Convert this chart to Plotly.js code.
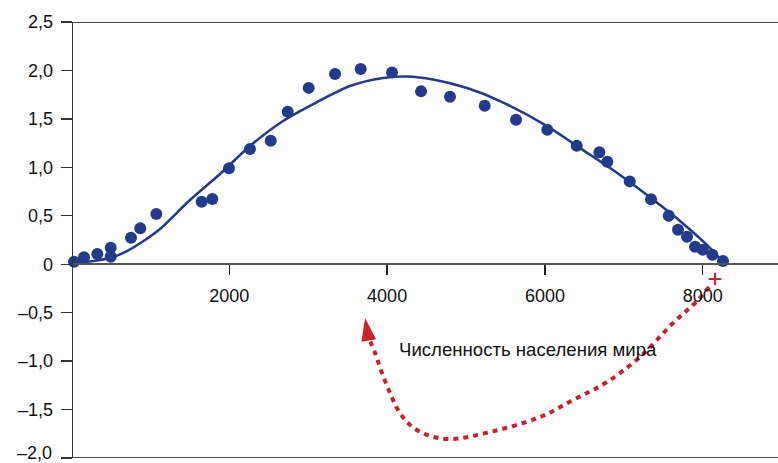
<!DOCTYPE html>
<html><head><meta charset="utf-8">
<script src="https://cdn.plot.ly/plotly-3.0.1.min.js"></script>
<style>html,body{margin:0;padding:0;background:#fff}#chart{width:778px;height:463px}</style>
</head><body><div id="chart"></div>
<script>
// Observed data points
const pointX = [32,158,327,497,497,754,872,1075,1650,1785,1996,2262,2525,2740,3006,3340,3665,4062,4430,4797,5237,5634,6030,6403,6690,6791,7075,7345,7569,7687,7801,7903,8000,8122,8257];
const pointY = [0.026,0.071,0.105,0.17,0.077,0.273,0.37,0.518,0.645,0.673,0.99,1.19,1.275,1.574,1.82,1.963,2.014,1.98,1.784,1.729,1.636,1.49,1.388,1.223,1.155,1.058,0.855,0.67,0.50,0.356,0.284,0.181,0.15,0.098,0.033];
// Fitted curve
const curveX = [19,234,488,703,932,1122,1502,1882,2262,2681,3112,3530,3948,4252,4582,5013,5431,6027,6445,6863,7294,7712,8131,8283];
const curveY = [0.012,0.028,0.064,0.136,0.250,0.363,0.662,0.931,1.220,1.478,1.674,1.839,1.922,1.937,1.906,1.818,1.684,1.426,1.199,0.972,0.714,0.446,0.136,-0.008];
// Red dotted arrow path
const arrowX = [8080,7940,7624,7205,6787,6356,5938,5304,4797,4505,4290,4138,4037,3935,3847,3765];
const arrowY = [-0.235,-0.37,-0.607,-0.957,-1.215,-1.401,-1.577,-1.732,-1.804,-1.762,-1.659,-1.504,-1.329,-1.123,-0.917,-0.76];
const arrowHeadX = [3720];
const arrowHeadY = [-0.555];
const startMarkX = [8156];
const startMarkY = [-0.153];
// Ticks and labels
const yTickVals = [-2,-1.5,-1,-0.5,0,0.5,1,1.5,2,2.5];
const yTickText = ['','\u20131,5','\u20131,0','\u20130,5','0','0,5','1,0','1,5','2,0','2,5'];
const yBottomLabel = '\u20132,0';
const yBottomValue = -2;
const xTickVals = [2000,4000,6000,8000];
const xTickText = ['2000','4000','6000','8000'];
const labelText = 'Численность населения мира';
const labelX = 4125, labelY = -0.885;

const blue = '#233b8b';
const red = '#c8232c';
const font = 'Liberation Sans, Arial, Helvetica, sans-serif';

const traces = [
  {x: curveX, y: curveY, mode: 'lines', line: {color: blue, width: 2.6, shape: 'spline', smoothing: 0.8}, hoverinfo: 'skip'},
  {x: pointX, y: pointY, mode: 'markers', marker: {color: blue, size: 12}, cliponaxis: false},
  {x: arrowX, y: arrowY, mode: 'lines', line: {color: red, width: 4, dash: '5px,5px', shape: 'spline'}, cliponaxis: false},
  {x: arrowHeadX, y: arrowHeadY, mode: 'markers', marker: {symbol: 'arrow', size: 24, angle: -9.5, color: red}, cliponaxis: false},
  {x: startMarkX, y: startMarkY, mode: 'markers', marker: {symbol: 'cross-thin', size: 9, line: {color: red, width: 2}}, cliponaxis: false}
];

const layout = {
  width: 778, height: 463,
  margin: {l: 73, r: 0, t: 22, b: 5, pad: 0},
  paper_bgcolor: '#fff', plot_bgcolor: '#fff',
  showlegend: false,
  font: {family: font, size: 18, color: '#111'},
  xaxis: {
    range: [19, 8954], anchor: 'free', position: 2/4.5,
    tickvals: xTickVals, ticktext: xTickText,
    showgrid: false, zeroline: false,
    showline: true, linecolor: '#555', linewidth: 2,
    ticks: 'outside', ticklen: 10, tickwidth: 1.5, tickcolor: '#222',
    ticklabelstandoff: 5,
    tickfont: {family: font, size: 18, color: '#111'}
  },
  yaxis: {
    range: [-2, 2.5],
    tickvals: yTickVals, ticktext: yTickText,
    showgrid: false, zeroline: false,
    showline: true, linecolor: '#333', linewidth: 1.4,
    ticks: 'outside', ticklen: 11, tickwidth: 1.4, tickcolor: '#333',
    ticklabelstandoff: 4,
    tickfont: {family: font, size: 18, color: '#111'}
  },
  shapes: [
    {type: 'line', xref: 'paper', yref: 'y', x0: 0, x1: 1, y0: 2.5, y1: 2.5, line: {color: '#4a4a4a', width: 1.8}},
    {type: 'line', xref: 'paper', yref: 'y', x0: 0, x1: 1, y0: -2, y1: -2, line: {color: '#4a4a4a', width: 1.8}}
  ],
  annotations: [
    {x: labelX, y: labelY, xref: 'x', yref: 'y', text: labelText, showarrow: false, xanchor: 'left', yanchor: 'middle',
     font: {family: font, size: 18.6, color: '#111'}},
    {x: 0, y: yBottomValue, xref: 'paper', yref: 'y', text: yBottomLabel, showarrow: false, xanchor: 'right', yanchor: 'middle',
     xshift: -19, yshift: 5, font: {family: font, size: 18, color: '#111'}}
  ]
};

Plotly.newPlot('chart', traces, layout, {displayModeBar: false, staticPlot: true});
</script>
</body></html>
